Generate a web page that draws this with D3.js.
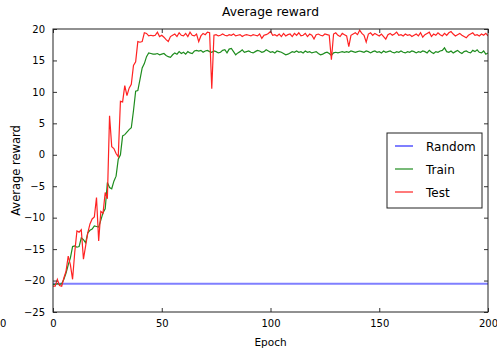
<!DOCTYPE html>
<html>
<head>
<meta charset="utf-8">
<script src="https://cdn.jsdelivr.net/npm/d3@7"></script>
<style>
  body { margin: 0; background: #fff; }
  text { font-family: "DejaVu Sans", sans-serif; fill: #000; }
</style>
</head>
<body>
<script>
// data
var epochs = d3.range(0, 201);

var testReward = [
  -20.9, -20.9, -19.8, -20.8, -20.9, -19.6, -18.5, -16.1, -17.5, -19.8,
  -15.5, -12.1, -12.3, -11.9, -16.6, -14.5, -12.4, -11.0, -10.2, -9.9,
  -6.8, -13.7, -9.0, -9.3, -6.0, -7.0, 6.2, 1.3, 1.0, 0.2,
  -0.3, 8.5, 8.4, 11.0, 9.4, 10.6, 11.2, 14.2, 14.8, 18.0,
  17.9, 18.0, 19.4, 19.3, 18.9, 19.0, 18.9, 19.0, 19.5, 18.8,
  19.0, 18.7, 18.3, 18.0, 18.8, 19.0, 19.2, 18.8, 19.4, 19.0,
  18.9, 19.3, 18.8, 19.5, 19.0, 18.9, 19.2, 18.0, 18.9, 19.3,
  19.1, 19.5, 19.4, 10.5, 19.0, 19.1, 18.9, 19.0, 19.2, 19.0,
  18.9, 19.1, 19.0, 19.2, 18.9, 19.0, 19.1, 18.8, 19.0, 19.1,
  19.0, 18.9, 19.1, 19.0, 18.9, 19.2, 18.5, 19.0, 19.1, 19.3,
  19.6, 19.0, 19.1, 18.9, 19.2, 18.8, 19.3, 18.9, 19.1, 19.2,
  18.8, 19.3, 19.0, 19.4, 18.9, 19.0, 19.3, 18.8, 19.2, 19.0,
  18.4, 19.1, 19.2, 19.0, 18.9, 19.2, 19.1, 19.0, 15.1, 19.2,
  19.4, 19.0, 18.8, 19.3, 19.1, 18.9, 17.2, 19.0, 19.2, 19.4,
  19.1, 19.8, 19.3, 19.0, 17.9, 19.2, 19.4, 19.0, 19.3, 19.1,
  18.9, 19.2, 18.8, 18.4, 19.1, 19.3, 19.0, 19.2, 19.5, 19.0,
  19.1, 18.9, 19.2, 19.0, 19.1, 18.8, 19.0, 19.2, 18.9, 19.4,
  18.7, 19.1, 19.3, 19.5, 18.8, 19.2, 19.0, 19.4, 19.1, 18.9,
  19.3, 19.0, 19.4, 19.6, 19.2, 18.9, 19.1, 19.3, 19.0, 18.8,
  18.6, 19.0, 19.2, 19.4, 19.0, 19.1, 18.9, 19.2, 19.0, 19.3,
  18.9
];

var trainReward = [
  -20.6, -20.6, -20.5, -20.6, -20.5, -19.8, -18.8, -17.5, -16.4, -14.6,
  -14.5, -14.7, -14.6, -13.2, -13.5, -14.0, -12.4, -12.0, -11.8, -11.3,
  -11.4, -11.5, -10.4, -9.2, -8.6, -4.4, -5.2, -5.4, -4.2, -3.4,
  -0.7, 0.0, 3.0, 3.2, 3.6, 4.0, 4.3, 7.0, 10.1, 10.2,
  12.0, 13.8, 14.5, 15.6, 16.2, 16.1, 16.0, 16.0, 16.1, 15.9,
  16.0, 16.1, 15.8, 15.6, 15.5, 15.9, 16.2, 16.0, 16.4, 16.1,
  16.3, 16.0, 16.4, 16.2, 16.1, 16.5, 16.6, 16.5, 16.6, 16.3,
  16.5, 16.6, 16.4, 16.3, 16.5, 16.4, 16.2, 16.3, 16.6, 16.7,
  16.2, 16.8, 16.9, 16.4, 15.9, 16.2, 16.4, 16.7, 16.3, 16.4,
  16.5, 16.3, 16.2, 16.4, 16.6, 16.5, 16.3, 16.4, 16.7, 16.5,
  16.3, 16.4, 16.2, 16.5, 16.4, 16.3, 16.1, 15.9, 16.0, 16.2,
  16.4, 16.3, 16.5, 16.3, 16.4, 16.2, 16.5, 16.3, 16.4, 16.2,
  16.3, 16.4, 16.1, 15.9, 16.0, 16.2, 16.3, 16.1, 15.8, 16.2,
  16.3, 16.2, 16.3, 16.4, 16.3, 16.4, 16.3, 16.5, 16.4, 16.3,
  16.4, 16.5, 16.4, 16.3, 16.5, 16.4, 16.2, 16.4, 16.5, 16.3,
  16.4, 16.2, 16.5, 16.3, 16.4, 16.5, 16.3, 16.2, 16.4, 16.3,
  16.5, 16.3, 16.2, 16.4, 16.3, 16.5, 16.4, 16.2, 16.4, 16.3,
  16.5, 16.4, 16.2, 16.6, 16.3, 16.1, 16.4, 16.3, 16.5, 16.6,
  17.0, 16.4, 16.3, 16.5, 16.2, 16.4, 16.6, 16.3, 16.1, 16.4,
  16.5, 16.3, 16.2, 16.6, 16.4, 16.7, 16.3, 16.2, 16.5, 16.0,
  16.2
];

var randomEpochs = [0, 200];
var randomReward = [-20.5, -20.5];

var xTicks = [0, 50, 100, 150, 200];
var yTicks = [-25, -20, -15, -10, -5, 0, 5, 10, 15, 20];

var legendNames = ['Random', 'Train', 'Test'];
var colors = {Random: '#7f7fff', Train: '#1e8c1e', Test: '#ff2222'};

var width = 497, height = 352;
var margin = {top: 29, right: 9, bottom: 40, left: 53};

var svg = d3.select('body').append('svg')
  .attr('width', width)
  .attr('height', height);

svg.append('rect').attr('width', width).attr('height', height).attr('fill', '#fff');

var x = d3.scaleLinear().domain([0, 200]).range([margin.left, width - margin.right]);
var y = d3.scaleLinear().domain([-25, 20]).range([height - margin.bottom, margin.top]);

var line = d3.line()
  .x(function(d) { return x(d[0]); })
  .y(function(d) { return y(d[1]); });

svg.append('clipPath').attr('id', 'plot')
  .append('rect')
  .attr('x', x(0)).attr('y', y(20))
  .attr('width', x(200) - x(0)).attr('height', y(-25) - y(20));

var plot = svg.append('g').attr('clip-path', 'url(#plot)');

plot.append('path')
  .attr('d', line(d3.zip(randomEpochs, randomReward)))
  .attr('fill', 'none').attr('stroke', colors.Random).attr('stroke-width', 2);

plot.append('path')
  .attr('d', line(d3.zip(epochs, trainReward)))
  .attr('fill', 'none').attr('stroke', colors.Train).attr('stroke-width', 1.2);

plot.append('path')
  .attr('d', line(d3.zip(epochs, testReward)))
  .attr('fill', 'none').attr('stroke', colors.Test).attr('stroke-width', 1.2);

// axes, ticks pointing inwards on all four sides
var fmt = function(d) { return d3.format('')(d).replace('-', '\u2212'); };

svg.append('g')
  .attr('transform', 'translate(0,' + y(-25) + ')')
  .call(d3.axisBottom(x).tickValues(xTicks).tickSizeInner(-4).tickSizeOuter(0).tickPadding(8).tickFormat(fmt));
svg.append('g')
  .attr('transform', 'translate(0,' + y(20) + ')')
  .call(d3.axisTop(x).tickValues(xTicks).tickSizeInner(-4).tickSizeOuter(0).tickFormat(''));
svg.append('g')
  .attr('transform', 'translate(' + x(0) + ',0)')
  .call(d3.axisLeft(y).tickValues(yTicks).tickSizeInner(-4).tickSizeOuter(0).tickPadding(8).tickFormat(fmt));
svg.append('g')
  .attr('transform', 'translate(' + x(200) + ',0)')
  .call(d3.axisRight(y).tickValues(yTicks).tickSizeInner(-4).tickSizeOuter(0).tickFormat(''));

svg.selectAll('.tick text').attr('font-size', 10).attr('font-family', '"DejaVu Sans", sans-serif').attr('fill', '#222');
svg.selectAll('.domain').remove();
svg.selectAll('.tick line').attr('stroke', '#333');

svg.append('rect')
  .attr('x', x(0)).attr('y', y(20))
  .attr('width', x(200) - x(0)).attr('height', y(-25) - y(20))
  .attr('fill', 'none').attr('stroke', '#222').attr('stroke-width', 1);

// stray zero at far left
svg.append('text').attr('x', 0).attr('y', 327).attr('text-anchor', 'start')
  .attr('font-size', 10).attr('fill', '#222').text('0');

svg.append('text')
  .attr('x', (x(0) + x(200)) / 2).attr('y', 16)
  .attr('text-anchor', 'middle').attr('font-size', 12.3)
  .text('Average reward');

svg.append('text')
  .attr('x', (x(0) + x(200)) / 2).attr('y', 346)
  .attr('text-anchor', 'middle').attr('font-size', 10.5)
  .text('Epoch');

svg.append('text')
  .attr('transform', 'translate(20,' + ((y(20) + y(-25)) / 2) + ') rotate(-90)')
  .attr('text-anchor', 'middle').attr('font-size', 11.5)
  .text('Average reward');

// legend
var legend = svg.append('g').attr('transform', 'translate(387,133)');
legend.append('rect')
  .attr('width', 95).attr('height', 75)
  .attr('fill', '#fff').attr('stroke', '#222').attr('stroke-width', 1);

var entries = legend.selectAll('g.entry')
  .data(legendNames)
  .enter().append('g')
  .attr('transform', function(d, i) { return 'translate(0,' + (13 + i * 23) + ')'; });

entries.append('line')
  .attr('x1', 8).attr('x2', 26)
  .attr('stroke', function(d) { return colors[d]; })
  .attr('stroke-width', function(d) { return d === 'Random' ? 2 : 1.2; });

entries.append('text')
  .attr('x', 39).attr('y', 4.5)
  .attr('font-size', 12)
  .text(function(d) { return d; });
</script>
</body>
</html>
